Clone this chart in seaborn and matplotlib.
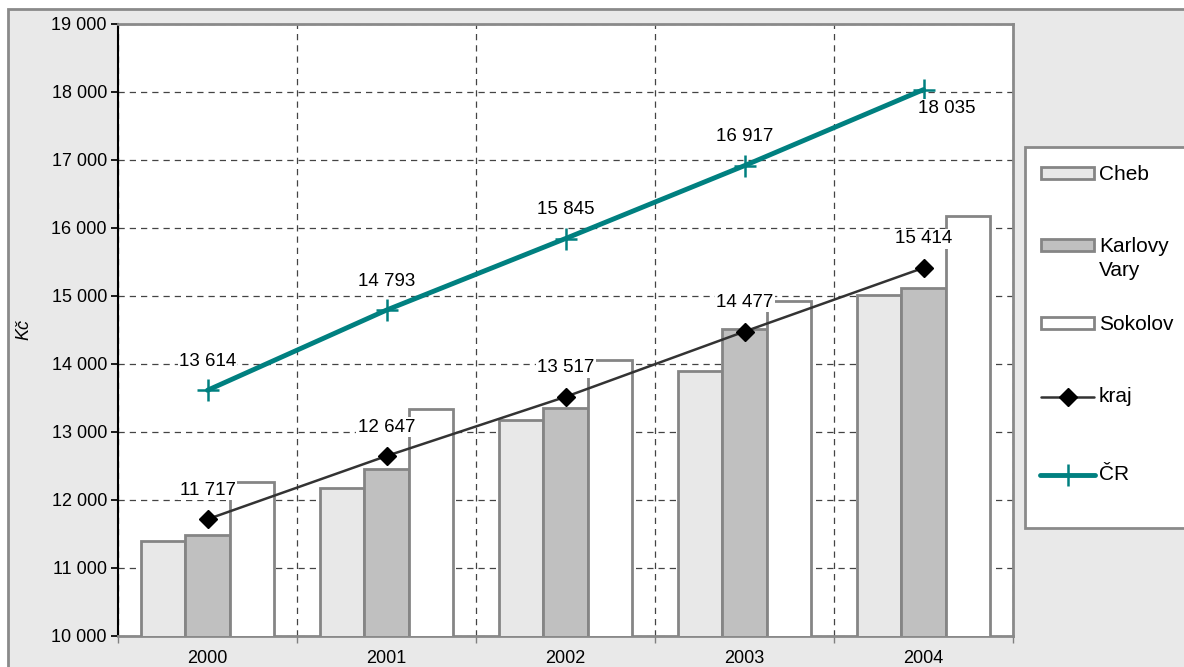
import matplotlib
matplotlib.use("Agg")
import matplotlib.pyplot as plt
from matplotlib.patches import Rectangle
from matplotlib.lines import Line2D
from matplotlib.ticker import FuncFormatter, FixedLocator
import seaborn as sns
import pandas as pd
import numpy as np

years = ["2000", "2001", "2002", "2003", "2004"]
cheb = [11390, 12170, 13170, 13890, 15010]
karlovy_vary = [11490, 12460, 13360, 14520, 15120]
sokolov = [12270, 13340, 14060, 14930, 16180]
kraj = [11717, 12647, 13517, 14477, 15414]
cr = [13614, 14793, 15845, 16917, 18035]
series_names = ["Cheb", "Karlovy Vary", "Sokolov"]

sns.set_theme(style="white")
plt.rcParams['font.family'] = ['Liberation Sans', 'DejaVu Sans']
plt.rcParams['text.color'] = 'black'
plt.rcParams['axes.labelcolor'] = 'black'
plt.rcParams['xtick.color'] = 'black'
plt.rcParams['ytick.color'] = 'black'

W, H = 1184, 667
fig = plt.figure(figsize=(W / 100, H / 100), dpi=100)
fig.patch.set_facecolor("white")


def fx(px):
    return px / W


def fy(py):
    return 1 - py / H


# outer grey panel
fig.patches.append(Rectangle((fx(8), -0.05), 1.1, fy(9) + 0.05, transform=fig.transFigure,
                             facecolor="#e9e9e9", edgecolor="#8a8a8a", linewidth=2, zorder=-10))

ax = fig.add_axes([fx(118), fy(636), fx(1013 - 118), (636 - 24) / H])
ax.set_facecolor("white")

df = pd.DataFrame({
    "rok": years * 3,
    "okres": [n for n in series_names for _ in years],
    "mzda": cheb + karlovy_vary + sokolov,
})
fills = {"Cheb": "#e8e8e8", "Karlovy Vary": "#c0c0c0", "Sokolov": "#ffffff"}
sns.barplot(data=df, x="rok", y="mzda", hue="okres", palette=fills, width=0.74,
            gap=0, ax=ax, legend=False, saturation=1, zorder=3)
for p in ax.patches:
    p.set_edgecolor("#858585")
    p.set_linewidth(2)

x = np.arange(len(years))
ax.plot(x, kraj, color="#333333", lw=1.8, marker="D", markersize=9,
        markerfacecolor="black", markeredgecolor="black", zorder=5)
ax.plot(x, cr, color="#008080", lw=3.5, marker="+", markersize=16,
        markeredgewidth=1.8, zorder=6)

bbox = dict(facecolor="white", edgecolor="none", pad=1)
for i, v in enumerate(kraj):
    ax.annotate(f"{v:,}".replace(",", " "), (i, v), xytext=(0, 29), textcoords="offset pixels",
                ha="center", va="center", fontsize=13.5, bbox=bbox, zorder=10)
for i, v in enumerate(cr):
    off = (23, -19) if i == len(cr) - 1 else (0, 29)
    ax.annotate(f"{v:,}".replace(",", " "), (i, v), xytext=off, textcoords="offset pixels",
                ha="center", va="center", fontsize=13.5, bbox=bbox, zorder=10)

ax.set_xlim(-0.5, 4.5)
ax.set_ylim(10000, 19000)
ax.set_yticks(np.arange(10000, 19001, 1000))
ax.yaxis.set_major_formatter(FuncFormatter(lambda v, p: f"{int(v):,}".replace(",", " ")))
ax.set_xticks(x)
ax.set_xticklabels(years)
ax.xaxis.set_minor_locator(FixedLocator([-0.5, 0.5, 1.5, 2.5, 3.5, 4.5]))
ax.tick_params(axis="x", which="major", length=0, labelsize=13, pad=10, colors="black")
ax.tick_params(axis="x", which="minor", length=5, color="#808080", direction="out", bottom=True)
ax.tick_params(axis="y", length=5, color="black", labelsize=13, pad=3, left=True, labelcolor="black")
ax.set_xlabel("")
ax.set_ylabel("Kč", fontsize=13, style="italic", labelpad=14)

ax.grid(axis="y", which="major", linestyle=(0, (5, 4)), color="#444444", lw=0.9, zorder=0)
ax.grid(axis="x", which="minor", linestyle=(0, (5, 4)), color="#444444", lw=0.9, zorder=0)
ax.grid(axis="x", which="major", visible=False)
ax.set_axisbelow(True)

for s in ["top", "right"]:
    ax.spines[s].set_color("#8a8a8a")
    ax.spines[s].set_linewidth(2)
ax.spines["left"].set_color("black")
ax.spines["left"].set_linewidth(1.5)
ax.spines["bottom"].set_color("#8a8a8a")
ax.spines["bottom"].set_linewidth(2)

# legend (drawn as a framed box with entries)
fig.add_artist(Rectangle((fx(1025), fy(528)), fx(200), (528 - 147) / H, transform=fig.transFigure,
                         facecolor="white", edgecolor="#8a8a8a", linewidth=2, zorder=20))
hx0, hx1, tx = 1041, 1094, 1099
patch_entries = [("Cheb", 173, "#e8e8e8"), ("Karlovy\nVary", 245, "#c0c0c0"), ("Sokolov", 323, "#ffffff")]
for lab, yc, col in patch_entries:
    fig.add_artist(Rectangle((fx(hx0), fy(yc + 6)), fx(hx1 - hx0), 12 / H, transform=fig.transFigure,
                             facecolor=col, edgecolor="#858585", linewidth=2, zorder=21))
    fig.text(fx(tx), fy(yc - 8), lab, ha="left", va="top", fontsize=15, linespacing=1.35, zorder=22)
fig.add_artist(Line2D([fx(hx0), fx(hx1)], [fy(397), fy(397)], transform=fig.transFigure,
                      color="#333333", lw=1.8, zorder=21))
fig.add_artist(Line2D([fx((hx0 + hx1) / 2)], [fy(397)], transform=fig.transFigure, marker="D",
                      markersize=9, color="black", lw=0, zorder=22))
fig.text(fx(tx), fy(397), "kraj", ha="left", va="center", fontsize=15, zorder=22)
fig.add_artist(Line2D([fx(hx0 - 1), fx(hx1 + 1)], [fy(475), fy(475)], transform=fig.transFigure,
                      color="#008080", lw=3.5, zorder=21))
fig.add_artist(Line2D([fx((hx0 + hx1) / 2)], [fy(475)], transform=fig.transFigure, marker="+",
                      markersize=16, markeredgewidth=1.8, color="#008080", lw=0, zorder=22))
fig.text(fx(tx), fy(475), "ČR", ha="left", va="center", fontsize=15, zorder=22)

fig.savefig("out.png", dpi=100)
